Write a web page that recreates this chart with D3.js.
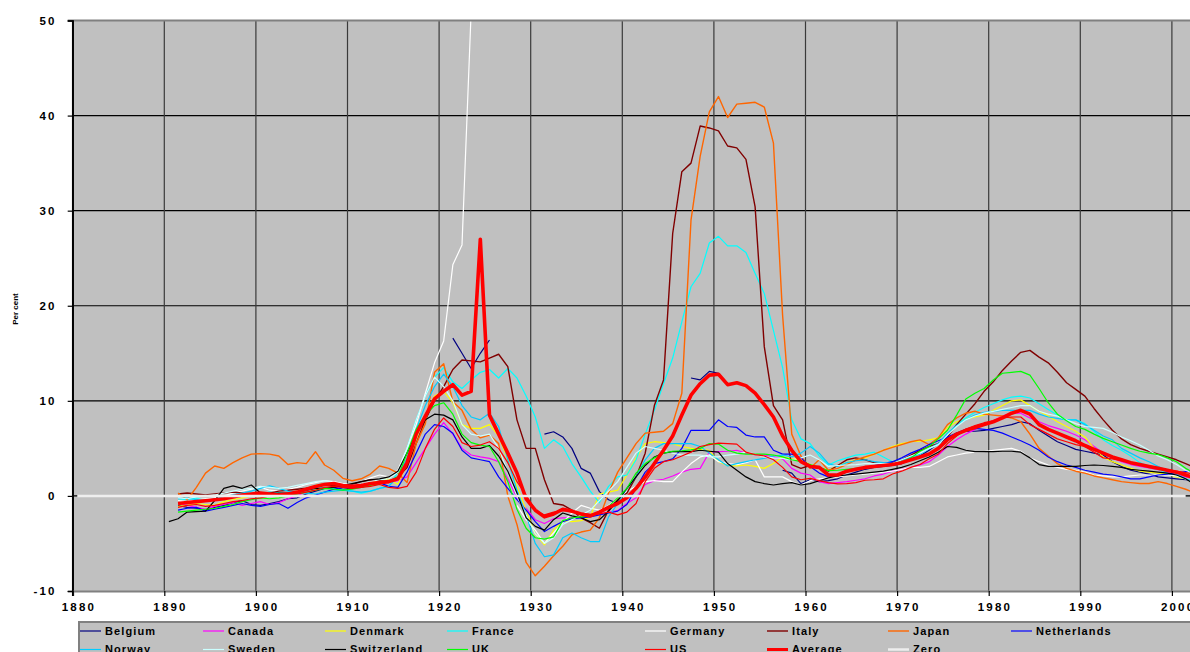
<!DOCTYPE html>
<html><head><meta charset="utf-8">
<script src="https://cdn.jsdelivr.net/npm/d3@7"></script>
<style>
body{margin:0;background:#fff;overflow:hidden;}
text{font-family:"Liberation Sans",Arial,sans-serif;font-weight:bold;fill:#000;}
</style></head><body>
<svg id="chart" width="1190" height="652"></svg>
<script>
// ---------------- DATA (annual values, first year 1890) ----------------
const firstYear = 1890;
const lastYear = 2002;
const belgium = [null,
 -1.0,-1.2,-1.3,-1.5,-1.2,-1.0,-0.7,-0.5,-0.9,
 -1.0,-0.8,-0.6,-0.3,-0.2,0.2,0.5,0.8,0.9,0.7,
 0.8,1.0,1.2,1.3,null,null,null,null,null,null,
 null,16.6,15.0,13.4,15.0,16.4,null,null,null,null,
 null,6.5,6.75,6.2,5.0,2.9,2.4,0.45,-0.4,-0.8,
 null,null,null,null,null,null,null,12.4,12.2,13.1,
 12.9,11.7,null,null,null,null,null,2.7,2.4,1.3,
 1.7,1.5,1.6,1.8,2.2,2.5,2.8,3.0,3.1,3.2,
 3.4,3.8,4.2,4.8,5.5,6.1,6.6,6.8,6.8,6.9,
 7.1,7.3,7.5,7.8,7.6,6.9,6.3,5.7,5.3,4.9,
 4.7,4.5,4.3,3.6,3.1,2.7,2.5,2.3,2.0,1.9,
 1.8,1.7,1.6];
const canada = [null,
 -0.8,-1.0,-1.2,-1.4,-1.1,-0.9,-0.7,-1.0,-0.8,
 -0.6,-0.9,-0.7,-0.3,0.0,0.5,1.0,1.3,1.2,1.1,
 0.8,0.9,1.3,1.5,1.4,1.6,2.0,3.5,5.0,6.5,
 7.7,6.5,5.0,4.3,4.1,3.95,3.6,1.8,-0.2,-1.3,
 -2.5,-2.9,-2.4,-2.3,-2.3,-2.2,-2.05,-1.9,-1.7,-1.55,
 -0.8,-0.2,1.2,1.6,1.75,2.1,2.5,2.8,2.9,4.6,
 4.65,4.7,4.8,4.5,4.35,4.3,4.1,3.9,2.9,2.4,
 2.2,1.5,1.3,1.4,1.5,1.65,1.8,2.1,2.3,2.6,
 2.8,3.0,3.25,3.6,4.3,5.2,5.9,6.5,7.0,7.5,
 7.9,8.4,8.7,8.7,8.2,7.8,7.4,7.1,6.8,6.4,
 5.9,5.2,4.5,4.0,3.6,3.3,3.1,2.95,2.75,2.5,
 2.3,2.0,1.8];
const denmark = [null,
 -1.1,-1.0,-0.8,-0.9,-1.0,-0.6,-0.4,-0.2,0.0,
 0.2,0.0,-0.1,0.3,0.5,0.8,1.1,1.3,1.2,1.0,
 0.9,1.1,1.4,1.6,1.8,1.2,3.5,6.0,8.5,10.5,
 11.0,9.8,7.5,7.1,7.1,7.5,6.3,3.8,1.0,-1.5,
 -4.0,-5.15,-3.6,-2.6,-2.7,-2.6,-2.2,0.2,0.4,0.6,
 2.2,4.0,5.5,5.7,5.6,5.5,5.2,5.0,4.9,4.8,
 3.6,3.2,3.15,3.25,3.1,2.9,3.4,4.1,3.9,3.8,
 3.3,3.0,2.7,3.2,3.5,3.8,4.0,4.4,4.8,5.2,
 5.5,5.7,5.75,5.9,6.1,7.2,7.8,8.1,8.3,8.5,
 9.0,9.5,10.0,10.1,9.5,8.9,8.4,7.8,7.3,6.8,
 6.2,5.0,4.1,3.6,3.25,2.9,2.6,2.5,2.4,2.3,
 2.0,1.8,1.6];
const france = [null,
 -0.3,-0.4,-0.2,-0.5,-0.3,-0.1,0.0,0.2,0.3,
 0.2,0.4,0.3,0.2,0.4,0.6,0.8,0.9,0.8,0.6,
 0.5,0.3,0.5,0.8,1.0,2.5,5.0,8.0,10.5,12.5,
 13.5,12.0,11.3,12.2,13.0,13.3,12.4,13.4,12.4,10.5,
 8.3,5.0,5.9,5.2,3.4,2.0,0.5,-0.7,1.0,2.0,
 2.2,3.8,6.5,9.0,11.8,14.5,18.3,22.0,23.4,26.6,
 27.3,26.3,26.3,25.6,23.4,21.3,17.4,13.5,8.0,6.0,
 5.5,4.2,3.25,3.7,4.0,4.3,4.4,4.6,4.1,3.6,
 3.8,4.0,4.4,5.0,5.4,6.5,7.5,8.2,8.8,9.3,
 9.7,10.1,10.4,10.5,10.3,9.7,9.1,8.5,8.0,8.0,
 7.6,6.8,5.9,5.3,4.8,4.2,3.5,3.1,2.8,2.4,
 2.1,1.8,1.5];
const germany = [null,
 -0.5,-0.6,-0.4,-0.3,-0.2,0.0,0.3,0.5,0.7,
 0.9,0.6,0.5,0.7,0.9,1.2,1.4,1.6,1.5,1.3,
 1.2,1.5,1.9,2.2,2.0,2.7,5.0,7.5,10.8,14.0,
 16.3,24.3,26.4,51.0,null,null,null,null,-1.0,-2.5,
 -3.6,-5.0,-3.9,-2.8,-1.8,-1.0,-1.3,-1.5,-1.0,-0.3,
 0.5,1.0,1.5,1.6,1.5,1.5,2.5,3.4,4.1,4.3,
 3.6,3.4,3.3,3.5,3.8,2.0,2.0,2.0,1.5,1.15,
 1.6,1.8,1.9,2.0,2.1,2.2,2.3,2.4,2.5,2.6,
 2.8,3.0,3.0,3.1,3.6,4.1,4.3,4.5,4.6,4.65,
 4.8,4.9,5.0,4.7,4.0,3.6,3.25,3.0,2.8,2.7,
 2.5,2.2,2.1,2.0,2.0,2.1,2.2,2.2,2.2,2.2,
 2.1,1.8,1.5];
const italy = [null,
 0.2,0.3,0.2,0.1,0.2,0.3,0.4,0.3,0.2,
 0.1,0.3,0.5,0.6,0.7,0.8,1.0,1.2,1.1,1.0,
 1.2,1.5,1.7,1.6,1.5,2.0,3.0,5.5,8.0,10.0,
 11.5,13.3,14.3,14.2,14.1,14.5,14.9,13.6,8.0,5.0,
 5.0,1.7,-0.8,-0.95,-1.5,-2.3,-2.8,-3.4,-1.5,-0.4,
 0.3,2.0,4.5,9.5,12.2,27.6,34.1,35.0,38.9,38.7,
 38.4,36.8,36.6,35.4,30.4,15.7,9.5,8.0,3.3,2.9,
 3.2,3.0,2.6,3.2,3.8,4.0,3.8,3.5,3.3,3.5,
 3.8,4.3,4.8,5.2,5.5,6.2,7.5,8.6,9.7,11.0,
 12.0,13.2,14.2,15.1,15.3,14.6,14.0,13.0,11.9,11.2,
 10.5,9.2,8.0,6.9,6.0,5.4,5.0,4.7,4.4,4.1,
 3.8,3.4,3.0];
const japan = [null,
 0.3,-0.4,0.9,2.4,3.15,2.9,3.5,4.0,4.4,
 4.45,4.4,4.2,3.3,3.5,3.4,4.65,3.25,2.7,1.85,
 1.6,1.8,2.3,3.15,2.9,2.4,1.4,5.5,7.6,13.0,
 13.9,9.9,9.0,7.0,6.1,6.4,5.5,0.0,-3.0,-7.0,
 -8.4,-7.4,-6.3,-5.3,-4.1,-3.8,-3.6,-2.3,0.3,2.5,
 4.0,5.5,6.6,6.7,6.8,7.6,10.8,29.0,35.7,40.4,
 42.0,39.8,41.2,41.3,41.4,40.9,37.1,19.0,6.5,4.2,
 2.9,3.8,2.7,2.9,3.3,3.8,4.1,4.4,4.8,5.1,
 5.4,5.7,5.9,5.4,6.1,7.5,8.2,8.7,8.9,8.6,
 8.5,8.4,8.2,7.8,6.5,5.0,4.2,3.4,2.9,2.6,
 2.4,2.1,1.9,1.7,1.5,1.4,1.3,1.3,1.5,1.3,
 1.0,0.7,0.3];
const netherlands = [null,
 -1.5,-1.3,-1.2,-1.6,-1.4,-1.2,-1.0,-0.8,-1.0,
 -1.1,-0.9,-0.8,-1.3,-0.7,-0.2,0.1,0.4,0.7,0.9,
 1.0,0.9,1.2,1.4,1.0,0.9,2.5,4.5,6.5,7.5,
 7.3,6.6,4.8,4.0,3.8,3.6,2.0,0.8,-0.4,-1.5,
 -2.7,-3.75,-3.2,-2.7,-2.4,-2.3,-2.2,-2.0,-1.8,-1.6,
 -0.9,0.8,2.5,3.4,3.6,3.9,5.0,6.9,6.9,6.9,
 8.0,7.3,7.2,6.4,6.2,6.2,4.8,4.4,4.4,4.0,
 3.1,2.4,2.0,2.2,2.5,2.8,3.0,3.2,3.4,3.6,
 4.0,4.5,4.9,5.4,5.8,6.2,6.6,7.0,7.1,7.0,
 6.9,6.6,6.2,5.8,5.35,4.8,4.1,3.6,3.25,3.0,
 2.7,2.5,2.3,2.2,2.0,1.8,1.8,2.0,2.2,2.3,
 2.4,2.55,2.6];
const norway = [null,
 -0.3,-0.2,-0.4,-0.5,-0.3,-0.1,0.1,0.3,0.5,
 0.8,1.05,0.8,0.5,0.4,0.3,0.2,0.4,0.5,0.6,
 0.5,0.4,0.5,0.8,1.0,2.0,4.0,7.0,9.5,11.5,
 12.8,11.5,9.5,8.3,8.0,8.7,7.3,3.8,0.6,-2.0,
 -5.0,-6.4,-6.2,-4.4,-3.9,-4.4,-4.8,-4.8,-2.2,-0.8,
 0.8,2.0,3.8,5.0,5.5,5.5,5.5,5.5,5.2,4.5,
 3.8,3.15,3.4,3.6,3.8,3.95,4.2,4.3,4.1,4.5,
 5.2,4.5,3.4,3.1,3.5,3.7,3.8,3.6,3.5,3.4,
 3.8,4.1,4.4,5.0,5.5,6.6,7.4,8.0,8.5,8.8,
 8.9,9.0,9.0,9.0,9.0,8.6,8.3,8.15,8.0,8.0,
 7.5,6.9,6.3,5.9,5.0,4.5,4.0,3.6,3.1,2.7,
 2.3,1.8,1.5];
const sweden = [null,
 -0.2,-0.3,-0.1,0.0,0.1,0.3,0.5,0.7,0.8,
 1.0,0.9,0.8,0.9,1.1,1.3,1.5,1.6,1.4,1.2,
 1.1,1.2,1.5,1.7,1.8,2.5,5.0,8.0,10.5,12.5,
 11.5,10.0,7.5,6.5,6.3,6.5,5.0,2.5,0.0,-2.0,
 -4.0,-5.0,-4.4,-3.0,-2.5,-2.0,-1.5,-0.5,0.5,1.5,
 3.0,4.5,5.2,5.0,4.8,4.5,4.3,4.3,4.3,4.1,
 4.1,4.3,4.4,4.6,4.4,4.1,4.0,3.95,3.8,4.0,
 4.3,3.8,3.1,3.2,3.25,3.3,3.4,3.4,3.4,3.4,
 3.8,4.2,4.5,5.0,5.4,6.4,7.3,8.0,8.4,8.7,
 8.9,9.1,9.3,9.5,9.5,8.9,8.6,8.4,8.0,7.6,
 7.3,7.2,7.1,6.7,6.2,5.8,5.35,4.8,4.2,3.8,
 3.3,2.7,2.3];
const switzerland = [-2.7,
 -2.4,-1.7,-1.65,-1.6,-0.5,0.8,1.05,0.8,1.15,
 0.3,0.2,0.3,0.3,0.4,0.6,0.8,0.8,0.9,1.1,
 1.3,1.5,1.7,1.8,2.0,2.6,4.5,6.5,8.0,8.6,
 8.5,8.0,6.2,5.0,5.0,5.3,4.2,2.6,0.3,-2.3,
 -3.2,-3.6,-2.5,-1.8,-2.1,-2.3,-2.7,-2.5,-1.6,-0.5,
 0.8,2.0,3.2,4.1,4.5,4.65,4.65,4.65,4.8,4.7,
 4.6,3.4,2.7,2.0,1.5,1.3,1.15,1.3,1.4,1.15,
 1.3,1.6,1.9,2.1,2.2,2.3,2.4,2.5,2.6,2.8,
 3.0,3.3,3.7,4.1,4.6,5.2,5.1,4.8,4.65,4.65,
 4.65,4.7,4.7,4.6,4.0,3.3,3.1,3.1,3.1,3.1,
 3.2,3.25,3.2,3.1,3.0,2.8,2.7,2.6,2.5,2.4,
 2.2,1.8,1.2];
const uk = [null,
 -1.7,-1.6,-1.5,-1.4,-1.3,-1.1,-0.9,-0.6,-0.4,
 -0.2,-0.3,-0.2,0.0,0.2,0.4,0.6,0.8,0.7,0.6,
 0.7,0.9,1.1,1.3,1.5,2.0,4.5,7.0,8.5,9.5,
 9.8,8.6,6.5,5.6,5.35,5.2,3.6,1.5,-1.4,-3.4,
 -4.4,-4.55,-4.3,-2.6,-2.3,-2.2,-2.1,-1.7,-1.1,-0.2,
 0.8,2.4,3.4,4.0,4.5,4.7,4.75,4.85,5.0,5.5,
 5.45,4.8,4.5,4.4,4.4,4.4,4.3,4.1,3.8,3.6,
 3.3,3.0,2.65,2.7,2.8,2.9,3.0,3.1,3.2,3.3,
 3.6,4.0,4.7,5.2,6.0,6.9,8.5,10.2,10.8,11.3,
 12.2,12.9,13.0,13.1,12.7,11.3,9.8,8.6,7.9,7.3,
 7.0,6.5,6.05,5.7,5.35,5.0,4.7,4.5,4.35,4.0,
 3.6,2.9,2.4];
const us = [null,
 -1.2,-1.0,-0.9,-1.1,-1.0,-0.8,-0.6,-0.5,-0.3,
 -0.2,0.0,0.1,0.3,0.2,0.4,0.6,0.9,1.0,0.9,
 0.8,0.9,1.0,1.2,0.9,0.8,1.0,2.5,5.0,7.0,
 8.2,7.3,5.6,5.2,5.35,5.7,5.0,3.5,1.5,0.1,
 -1.5,-2.0,-1.7,-1.55,-1.6,-1.8,-1.95,-1.9,-1.7,-2.0,
 -1.7,-0.8,1.5,2.9,3.6,3.8,4.2,4.6,5.2,5.4,
 5.55,5.5,5.45,4.6,4.35,4.2,3.8,3.0,2.0,1.7,
 1.85,1.6,1.4,1.26,1.3,1.4,1.65,1.7,1.8,2.3,
 2.6,3.0,3.3,3.9,4.4,5.5,6.3,7.0,7.4,7.7,
 7.9,8.2,8.3,8.3,7.5,7.0,6.5,6.0,5.7,5.4,
 5.2,4.6,4.0,3.9,3.7,3.55,3.3,3.1,2.9,2.75,
 2.6,2.45,2.3];
const average = [null,
 -0.8,-0.7,-0.6,-0.5,-0.4,-0.3,-0.1,0.1,0.2,
 0.3,0.2,0.1,0.2,0.4,0.7,1.0,1.2,1.3,1.1,
 1.0,1.1,1.3,1.4,1.5,1.8,3.5,6.5,8.4,10.2,
 11.0,11.7,10.6,11.0,27.0,8.5,6.5,4.5,2.4,-0.3,
 -1.5,-2.2,-1.9,-1.4,-1.6,-1.9,-2.1,-1.7,-1.2,-0.8,
 -0.2,0.8,2.0,3.4,4.8,6.3,8.5,10.6,11.8,12.7,
 12.8,11.7,11.9,11.6,10.8,9.6,8.3,6.3,4.8,3.6,
 3.1,3.0,2.2,2.2,2.6,2.8,3.0,3.1,3.2,3.3,
 3.5,3.8,4.1,4.4,5.0,5.9,6.5,6.9,7.2,7.5,
 7.8,8.2,8.7,9.0,8.6,7.5,7.0,6.6,6.2,5.8,
 5.3,4.9,4.5,4.1,3.8,3.5,3.3,3.1,2.9,2.7,
 2.5,2.2,1.9];
const zeroYears = [1880, 2001];
const zeroValues = [0, 0];

const seriesNames = ["Belgium","Canada","Denmark","France","Germany","Italy","Japan","Netherlands",
  "Norway","Sweden","Switzerland","UK","US","Average","Zero"];
const xTickYears = [1880,1890,1900,1910,1920,1930,1940,1950,1960,1970,1980,1990,2000];
const yTicks = [-10,0,10,20,30,40,50];
const yTitle = "Per cent";

// ---------------- STYLES ----------------
const seriesColors = ["#000080","#ff00ff","#ffff00","#00ffff","#ffffff","#800000","#ff6600","#0000ff",
  "#00ccff","#ccffff","#000000","#00ff00","#ff0000","#ff0000","#eeeeee"];
const seriesWidths = [1.2,1.2,1.2,1.2,1.2,1.4,1.4,1.2,1.2,1.2,1.2,1.2,1.2,3.6,2.5];

// ---------------- BUILD ----------------
const countryValues = [belgium,canada,denmark,france,germany,italy,japan,netherlands,norway,sweden,switzerland,uk,us,average];
const years = d3.range(firstYear, lastYear + 1);
const series = countryValues.map((vals, i) => ({
  name: seriesNames[i],
  color: seriesColors[i],
  width: seriesWidths[i],
  points: years.map((yr, k) => ({year: yr, v: vals[k]}))
}));
series.push({
  name: "Zero", color: seriesColors[14], width: seriesWidths[14],
  points: zeroYears.map((yr, k) => ({year: yr, v: zeroValues[k]}))
});

const svg = d3.select("#chart");
const plotLeft = 72.7, plotTop = 20.5, plotBottom = 591, catW = 9.16;
const x = d3.scaleLinear().domain([1880, 2005]).range([plotLeft, plotLeft + 125 * catW]);
const y = d3.scaleLinear().domain([-10, 50]).range([plotBottom, plotTop]);
const px = yr => x(yr + 0.5); // Excel category centres

// plot background
svg.append("rect").attr("x", plotLeft).attr("y", plotTop)
  .attr("width", 1190 - plotLeft).attr("height", plotBottom - plotTop).attr("fill", "#c0c0c0");

// gridlines
svg.append("g").selectAll("line").data(yTicks.filter(d => d > -10 && d < 50)).join("line")
  .attr("x1", plotLeft).attr("x2", 1190).attr("y1", d => y(d)).attr("y2", d => y(d))
  .attr("stroke", "#000").attr("stroke-width", 1.2);
svg.append("g").selectAll("line").data(xTickYears.filter(d => d > 1880)).join("line")
  .attr("x1", d => x(d)).attr("x2", d => x(d)).attr("y1", plotTop).attr("y2", plotBottom)
  .attr("stroke", "#3a3a3a").attr("stroke-width", 1.2);

// clip
svg.append("clipPath").attr("id", "clip").append("rect")
  .attr("x", plotLeft).attr("y", plotTop).attr("width", 1190 - plotLeft).attr("height", plotBottom - plotTop);

const line = d3.line().defined(d => d.v !== null && d.v !== undefined)
  .x(d => px(d.year)).y(d => y(d.v));

svg.append("g").attr("clip-path", "url(#clip)").selectAll("path").data(series).join("path")
  .attr("d", d => line(d.points)).attr("fill", "none")
  .attr("stroke", d => d.color).attr("stroke-width", d => d.width)
  .attr("stroke-linejoin", "round");

// borders
svg.append("line").attr("x1", plotLeft - 5).attr("x2", 1190).attr("y1", plotTop).attr("y2", plotTop)
  .attr("stroke", "#808080").attr("stroke-width", 2);

// y axis
const yAxis = d3.axisLeft(y).tickValues(yTicks).tickSize(5).tickPadding(11).tickFormat(d => String(d));
const gy = svg.append("g").attr("transform", `translate(${plotLeft},0)`).call(yAxis);
gy.select(".domain").attr("stroke", "#000").attr("stroke-width", 1.5);
gy.selectAll(".tick line").attr("stroke", "#000").attr("stroke-width", 1.2);
gy.selectAll(".tick text").style("font-size", "11.5px").style("letter-spacing", "2.2px")
  .attr("font-family", null).attr("fill", "#000");

// x axis
const xAxis = d3.axisBottom(x).tickValues(xTickYears).tickSize(5).tickPadding(7).tickFormat(d => String(d));
const gx = svg.append("g").attr("transform", `translate(0,${plotBottom})`).call(xAxis);
gx.select(".domain").attr("stroke", "#808080").attr("stroke-width", 2);
gx.selectAll(".tick line").attr("stroke", "#000").attr("stroke-width", 1.2);
gx.selectAll(".tick text").style("font-size", "11.5px").style("letter-spacing", "2.2px")
  .attr("x", px(1880) - x(1880) + 1.1).attr("fill", "#000");
// left axis line above the bottom border
svg.append("line").attr("x1", plotLeft).attr("x2", plotLeft).attr("y1", plotTop).attr("y2", plotBottom + 5)
  .attr("stroke", "#000").attr("stroke-width", 1.5);

// y title
svg.append("text").attr("transform", "translate(18,309) rotate(-90)")
  .attr("text-anchor", "middle").style("font-size", "8px").text(yTitle);

// legend
const legendCols = [80, 203, 325, 447, 645, 767, 888, 1011];
const legendRowY = [631, 649.5];
const legendSlots = [[0,0],[1,0],[2,0],[3,0],[4,0],[5,0],[6,0],[7,0],[0,1],[1,1],[2,1],[3,1],[4,1],[5,1],[6,1]];
svg.append("rect").attr("x", 79).attr("y", 622).attr("width", 1200).attr("height", 60)
  .attr("fill", "#c0c0c0").attr("stroke", "#808080").attr("stroke-width", 2);
const lg = svg.append("g").selectAll("g").data(series).join("g")
  .attr("transform", (d, i) => `translate(${legendCols[legendSlots[i][0]]},${legendRowY[legendSlots[i][1]]})`);
lg.append("line").attr("x1", 0).attr("x2", 21).attr("y1", 0).attr("y2", 0)
  .attr("stroke", d => d.color).attr("stroke-width", d => Math.min(d.width, 3));
lg.append("text").attr("x", 25).attr("y", 3.8).style("font-size", "11px").style("letter-spacing", "1.1px")
  .text(d => d.name);
</script>
</body></html>
